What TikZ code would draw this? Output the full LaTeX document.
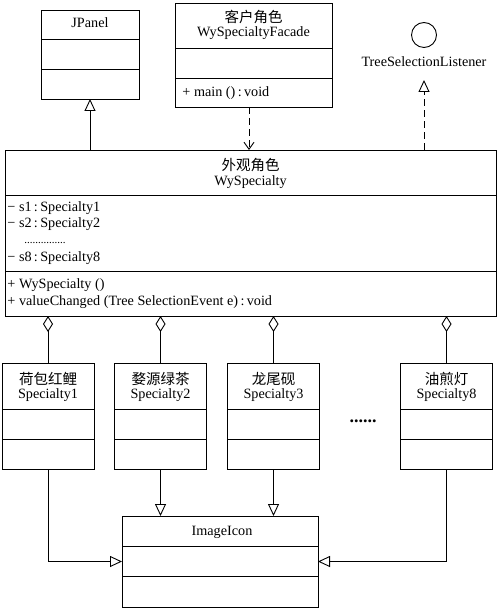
\documentclass[tikz,border=0pt]{standalone}
\usepackage{fontspec}
\setmainfont{Liberation Serif}
\newfontfamily\cjk{Noto Sans CJK SC}
\usetikzlibrary{arrows.meta}
\begin{document}
\begin{tikzpicture}[x=1pt,y=-1pt,line width=0.9pt,
  box/.style={draw,line width=0.9pt,inner sep=0pt,outer sep=0pt},
  txt/.style={font=\fontsize{14.2}{16}\selectfont,inner sep=0pt,text height=9.5pt,text depth=3pt},
  cn/.style={font=\fontsize{14.5}{16}\selectfont\cjk,inner sep=0pt},
  gen/.style={-{Triangle[open,length=12pt,width=11pt]}},
  real/.style={dashed,dash pattern=on 7pt off 4pt,-{Triangle[open,length=12pt,width=11pt]}},
  dep/.style={dashed,dash pattern=on 7pt off 4pt,-{Straight Barb[length=7pt,width=10pt]}},
  agg/.style={{Diamond[open,length=16pt,width=10pt]}-}]
\useasboundingbox (0,0) rectangle (500,609);

% JPanel
\node[box,minimum width=98pt,minimum height=89pt] (jpanel) at (90,54.5) {};
\draw (41,39) -- (139,39);
\draw (41,69) -- (139,69);
\node[txt] (jpaneltxt) at (90,24) {JPanel};

% Facade
\node[box,minimum width=157pt,minimum height=104pt] (facade) at (253.5,55) {};
\draw (175,48) -- (332,48);
\draw (175,78) -- (332,78);
\node[cn] (facadecn) at (253.5,17) {客户角色};
\node[txt] (facadetxt) at (253.5,33) {WySpecialtyFacade};
\node[txt,anchor=west] (facademain) at (182,93) {+ main ()\,:\,void};

% TreeSelectionListener
\node[draw,circle,minimum size=25pt,inner sep=0pt] (circ) at (424,35) {};
\node[txt] (tsl) at (424,63) {TreeSelectionListener};
\coordinate (tslend) at (424,80);

% Main box
\node[box,minimum width=491pt,minimum height=166pt] (main) at (250.5,233) {};
\draw (5,195) -- (496,195);
\draw (5,271) -- (496,271);
\node[cn] (maincn) at (250.5,165) {外观角色};
\node[txt] (maintxt) at (250.5,182) {WySpecialty};
\node[txt,anchor=west] (a1) at (7,208) {− s1\,:\,Specialty1};
\node[txt,anchor=west] (a2) at (7,224) {− s2\,:\,Specialty2};
\node[inner sep=0pt,anchor=west,font=\fontsize{11}{12}\selectfont] (a3) at (24,243) {...............};
\node[txt,anchor=west] (a4) at (7,258) {− s8\,:\,Specialty8};
\node[txt,anchor=west] (m1) at (7,285) {+ WySpecialty ()};
\node[txt,anchor=west] (m2) at (7,302) {+ valueChanged (Tree SelectionEvent e)\,:\,void};

% Specialty boxes
\foreach \n/\cx/\cname/\ename in {b1/48/荷包红鲤/Specialty1, b2/160.5/婺源绿茶/Specialty2, b3/273.5/龙尾砚/Specialty3, b4/446.5/油煎灯/Specialty8}{
  \node[box,minimum width=92pt,minimum height=106pt] (\n) at (\cx,416) {};
  \draw ([xshift=-46pt]\cx,409) -- ([xshift=46pt]\cx,409);
  \draw ([xshift=-46pt]\cx,439) -- ([xshift=46pt]\cx,439);
  \node[cn] (\n cn) at (\cx,379) {\cname};
  \node[txt] (\n txt) at (\cx,395) {\ename};
}
\node[inner sep=0pt,font=\fontsize{18}{18}\selectfont\bfseries] (dots) at (363,421) {......};

% ImageIcon
\node[box,minimum width=196pt,minimum height=91pt] (icon) at (220,561.5) {};
\draw (122,546) -- (318,546);
\draw (122,576) -- (318,576);
\node[txt] (icontxt) at (222,532) {ImageIcon};

% Connectors
\draw[gen] (main.north -| jpanel.south) -- (jpanel.south);
\draw[dep] ([xshift=-4.5pt]facade.south) -- ([xshift=-4.5pt]facade.south |- main.north);
\draw[real] (tslend |- main.north) -- (tslend);
\foreach \n in {b1,b2,b3,b4}{
  \draw[agg] (\n.north |- main.south) -- (\n.north);
}
\draw[gen] (b2.south) -- (b2.south |- icon.north);
\draw[gen] (b3.south) -- (b3.south |- icon.north);
\draw[gen] (b1.south) |- (icon.west);
\draw[gen] (b4.south) |- (icon.east);
\end{tikzpicture}
\end{document}
